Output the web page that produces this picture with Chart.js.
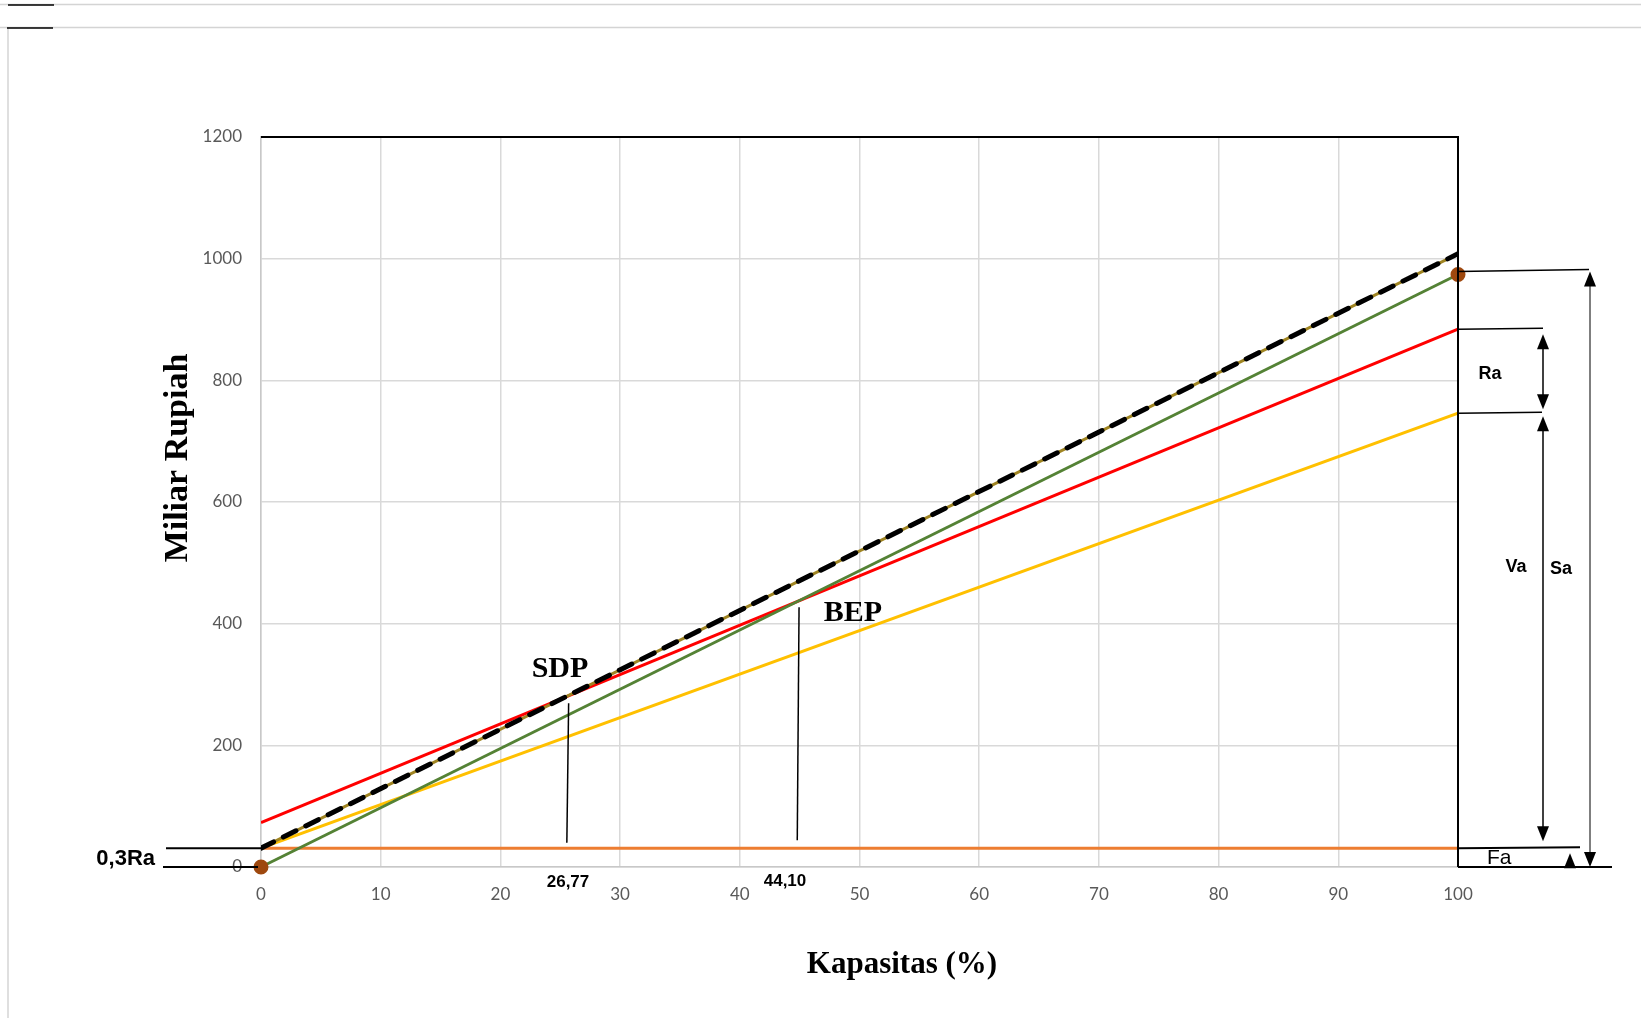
<!DOCTYPE html>
<html>
<head>
<meta charset="utf-8">
<script src="https://cdn.jsdelivr.net/npm/chart.js@4.4.1/dist/chart.umd.min.js"></script>
<style>
  html, body { margin: 0; padding: 0; background: #fff; }
  #wrap { width: 1641px; height: 1018px; }
</style>
</head>
<body>
<div id="wrap"><canvas id="c" width="1641" height="1018"></canvas></div>
<script>
// values (Miliar Rupiah against Kapasitas %)
const kapasitas = [0, 100];
const penjualan = [0, 974];        // Sa, green
const biayaTetap = [31, 31];       // Fa, orange
const biayaVariabel = [31, 746];   // Fa + Va, yellow
const biayaTotal = [73, 884];      // red
const garisSdp = [31, 1008];       // dashed black over olive
const xTicks = [0, 10, 20, 30, 40, 50, 60, 70, 80, 90, 100];
const yTicks = [0, 200, 400, 600, 800, 1000, 1200];
const titikSdp = 26.77, titikBep = 44.10;

function pts(ys) {
  return kapasitas.map((x, i) => ({ x: x, y: ys[i] }));
}

function line(label, ys, color, width, extra) {
  return Object.assign({
    label: label,
    data: pts(ys),
    showLine: true,
    borderColor: color,
    backgroundColor: color,
    borderWidth: width,
    pointRadius: 0,
    fill: false
  }, extra || {});
}

const sans = 'Liberation Sans, Arial, sans-serif';
const serif = 'Liberation Serif, Times New Roman, serif';

function arrowHead(ctx, x, y, dir) {
  // dir -1 = pointing up, 1 = pointing down, tip at (x, y)
  ctx.beginPath();
  ctx.moveTo(x, y);
  ctx.lineTo(x - 6, y - dir * 15);
  ctx.lineTo(x + 6, y - dir * 15);
  ctx.closePath();
  ctx.fill();
}

function seg(ctx, x1, y1, x2, y2, color, w) {
  ctx.strokeStyle = color;
  ctx.lineWidth = w;
  ctx.beginPath();
  ctx.moveTo(x1, y1);
  ctx.lineTo(x2, y2);
  ctx.stroke();
}

function text(ctx, s, x, y, font, align) {
  ctx.font = font;
  ctx.textAlign = align || 'center';
  ctx.textBaseline = 'middle';
  ctx.fillStyle = '#000';
  ctx.fillText(s, x, y);
}

const decor = {
  id: 'decor',
  beforeDraw(chart) {
    const ctx = chart.ctx;
    ctx.save();
    ctx.fillStyle = '#fff';
    ctx.fillRect(0, 0, chart.width, chart.height);
    // page frame
    seg(ctx, 0, 4.5, chart.width, 4.5, '#d4d4d4', 1.5);
    seg(ctx, 0, 27.5, chart.width, 27.5, '#d4d4d4', 1.5);
    seg(ctx, 8, 27, 8, chart.height, '#d4d4d4', 1.5);
    seg(ctx, 8, 5, 54, 5, '#000', 1.5);
    seg(ctx, 7, 28, 53, 28, '#000', 1.5);
    ctx.restore();
  },
  afterDraw(chart) {
    const ctx = chart.ctx;
    const xs = chart.scales.x, ys = chart.scales.y;
    const a = chart.chartArea;
    const px = v => xs.getPixelForValue(v);
    const py = v => ys.getPixelForValue(v);
    ctx.save();

    // plot frame: top and right in black
    seg(ctx, a.left, a.top, a.right + 1, a.top, '#000', 2);
    seg(ctx, a.right, a.top, a.right, a.bottom, '#000', 2);

    // left side: 0,3Ra bracket
    seg(ctx, a.left - 95, py(biayaTetap[0]), a.left, py(biayaTetap[0]), '#000', 2);
    seg(ctx, a.left - 98, py(0), a.left - 3, py(0), '#000', 2);
    text(ctx, '0,3Ra', a.left - 106, 859, 'bold 22px ' + sans, 'right');

    // SDP and BEP markers
    seg(ctx, px(25.7), py(269), px(25.55), py(40), '#000', 1.5);
    seg(ctx, px(44.95), py(427), px(44.8), py(44), '#000', 1.5);
    text(ctx, 'SDP', 560, 669, 'bold 30px ' + serif);
    text(ctx, 'BEP', 853, 613, 'bold 30px ' + serif);
    text(ctx, String(titikSdp).replace('.', ','), 568, 882, 'bold 17px ' + sans);
    text(ctx, titikBep.toFixed(2).replace('.', ','), 785, 881, 'bold 17px ' + sans);

    // right side: Sa, Ra, Va, Fa brackets
    const r = a.right;
    const ySa = py(penjualan[1]), yRa = py(biayaTotal[1]), yVa = py(biayaVariabel[1]);
    const yFa = py(biayaTetap[1]), y0 = py(0);
    ctx.fillStyle = '#000';
    seg(ctx, r, ySa - 3, r + 131, ySa - 5, '#000', 1.5);
    seg(ctx, 1590, ySa + 10, 1590, y0 - 12, '#555', 1.5);
    arrowHead(ctx, 1590, ySa - 3, -1);
    arrowHead(ctx, 1590, y0, 1);

    seg(ctx, r, yRa, r + 85, yRa - 1, '#000', 1.5);
    seg(ctx, 1543, yRa + 12, 1543, yVa - 12, '#000', 1.5);
    arrowHead(ctx, 1543, yRa + 5, -1);
    arrowHead(ctx, 1543, yVa - 4, 1);

    seg(ctx, r, yVa, r + 84, yVa - 1, '#000', 1.5);
    seg(ctx, 1543, yVa + 12, 1543, yFa - 18, '#000', 1.5);
    arrowHead(ctx, 1543, yVa + 3, -1);
    arrowHead(ctx, 1543, yFa - 7, 1);

    seg(ctx, r, yFa, r + 122, yFa - 1, '#000', 2);
    seg(ctx, r, y0, r + 154, y0, '#000', 2);
    seg(ctx, 1570, y0, 1570, y0 - 8, '#000', 1.5);
    arrowHead(ctx, 1570, yFa + 5, -1);

    text(ctx, 'Ra', 1490, 374, 'bold 18px ' + sans);
    text(ctx, 'Va', 1516, 567, 'bold 18px ' + sans);
    text(ctx, 'Sa', 1561, 569, 'bold 18px ' + sans);
    text(ctx, 'Fa', 1487, 858, '21px ' + sans, 'left');

    // axis titles
    text(ctx, 'Kapasitas (%)', 902, 965, 'bold 31px ' + serif);
    ctx.save();
    ctx.translate(178, 458);
    ctx.rotate(-Math.PI / 2);
    text(ctx, 'Miliar Rupiah', 0, 0, 'bold 34px ' + serif);
    ctx.restore();

    ctx.restore();
  }
};

// first dataset is drawn on top
new Chart(document.getElementById('c'), {
  type: 'scatter',
  data: {
    datasets: [
      line('SDP garis', garisSdp, '#000', 5, { borderDash: [14, 11], borderCapStyle: 'round' }),
      line('SDP', garisSdp, '#a08522', 3),
      line('Penjualan', penjualan, '#548235', 3, {
        pointRadius: 6, pointHoverRadius: 6,
        pointBackgroundColor: '#9e480e', pointBorderColor: '#9e480e', clip: false
      }),
      line('Total biaya', biayaTotal, '#ff0000', 3),
      line('Fa + Va', biayaVariabel, '#ffc000', 3),
      line('Fa', biayaTetap, '#ed7d31', 3)
    ]
  },
  options: {
    responsive: false,
    animation: false,
    devicePixelRatio: 1,
    layout: { padding: { top: 137, right: 183, bottom: 111, left: 0 } },
    plugins: { legend: { display: false }, tooltip: { enabled: false } },
    scales: {
      x: {
        type: 'linear', min: 0, max: 100,
        afterFit: s => { s.height = 40; },
        afterBuildTicks: s => { s.ticks = xTicks.map(v => ({ value: v })); },
        ticks: { padding: 17, color: '#595959', font: { family: 'Lato', size: 17 }, callback: v => String(v) },
        grid: { color: '#d9d9d9', lineWidth: 1.5, drawTicks: false },
        border: { color: '#c8c8c8', width: 1.5 }
      },
      y: {
        type: 'linear', min: 0, max: 1200,
        afterFit: s => { s.width = 261; },
        afterBuildTicks: s => { s.ticks = yTicks.map(v => ({ value: v })); },
        ticks: { padding: 19, color: '#595959', font: { family: 'Lato', size: 17 }, callback: v => String(v) },
        grid: { color: '#d9d9d9', lineWidth: 1.5, drawTicks: false },
        border: { color: '#c8c8c8', width: 1.5 }
      }
    }
  },
  plugins: [decor]
});
</script>
</body>
</html>
